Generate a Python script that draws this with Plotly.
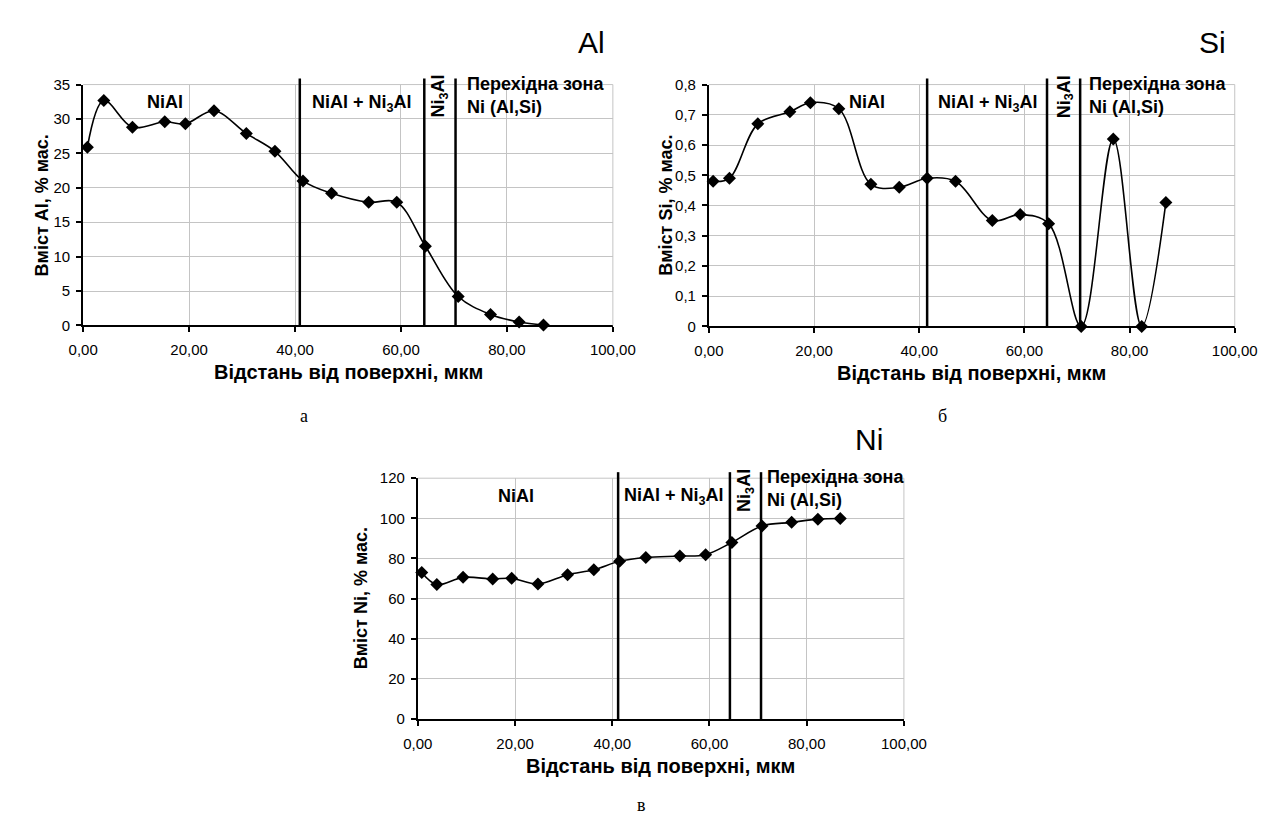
import plotly.graph_objects as go

# ---------------- data ----------------
distance = [0.8, 3.9, 9.3, 15.4, 19.3, 24.7, 30.8, 36.2, 41.5, 46.9,
            53.9, 59.2, 64.6, 70.8, 76.9, 82.3, 86.9]
al_content = [25.9, 32.7, 28.8, 29.6, 29.3, 31.2, 27.9, 25.3, 21.0, 19.2,
              17.9, 17.9, 11.5, 4.2, 1.6, 0.5, 0.05]
si_content = [0.48, 0.49, 0.67, 0.71, 0.74, 0.72, 0.47, 0.46, 0.49, 0.48,
              0.35, 0.37, 0.34, 0.0, 0.62, 0.0, 0.41]
ni_content = [73.0, 67.0, 70.6, 69.8, 70.1, 67.3, 71.9, 74.4, 78.6, 80.5,
              81.2, 81.9, 88.0, 96.2, 98.0, 99.6, 99.9]

# zone boundaries (per chart)
al_bounds = [40.9, 64.4, 70.3]
si_bounds = [41.5, 64.3, 70.6]
ni_bounds = [41.2, 64.2, 70.6]

x_tickvals = [0, 20, 40, 60, 80, 100]
x_ticktext = ["0,00", "20,00", "40,00", "60,00", "80,00", "100,00"]
al_tickvals = [0, 5, 10, 15, 20, 25, 30, 35]
al_ticktext = ["0", "5", "10", "15", "20", "25", "30", "35"]
si_tickvals = [0, 0.1, 0.2, 0.3, 0.4, 0.5, 0.6, 0.7, 0.8]
si_ticktext = ["0", "0,1", "0,2", "0,3", "0,4", "0,5", "0,6", "0,7", "0,8"]
ni_tickvals = [0, 20, 40, 60, 80, 100, 120]
ni_ticktext = ["0", "20", "40", "60", "80", "100", "120"]

x_title = "Відстань від поверхні, мкм"
y_titles = ["Вміст Al, % мас.", "Вміст Si, % мас.", "Вміст Ni, % мас."]
element_titles = ["Al", "Si", "Ni"]
panel_letters = ["а", "б", "в"]
zone_labels = ["NiAl", "NiAl + Ni<sub>3</sub>Al", "Ni<sub>3</sub>Al",
               "Перехідна зона<br>Ni (Al,Si)"]

W, H = 1274, 816
SANS = "Liberation Sans, Arial, sans-serif"
SERIF = "Liberation Serif, Times New Roman, serif"
GRID = "#c4c4c4"


def px(x):
    return x / W


def py(y):
    return 1 - y / H


# plot areas in pixels: (left, right, top, bottom)
areas = [(62, 608, 69, 315), (707, 1249, 69, 316), (407, 908, 471, 717)]

fig = go.Figure()

series = [al_content, si_content, ni_content]
for i, vals in enumerate(series):
    sfx = "" if i == 0 else str(i + 1)
    fig.add_trace(go.Scatter(
        x=distance, y=vals, xaxis="x" + sfx, yaxis="y" + sfx,
        mode="lines+markers",
        line=dict(color="black", width=1.6, shape="spline", smoothing=1.0),
        marker=dict(symbol="diamond", size=10, color="black"),
        cliponaxis=False, showlegend=False, hoverinfo="x+y"))

y_ticks = [(al_tickvals, al_ticktext, [0, 35]),
           (si_tickvals, si_ticktext, [0, 0.8]),
           (ni_tickvals, ni_ticktext, [0, 120])]

layout = dict(width=W, height=H, margin=dict(l=0, r=0, t=0, b=0),
              paper_bgcolor="white", plot_bgcolor="white",
              font=dict(family=SANS, color="black"), showlegend=False)

for i, (l, r, t, b) in enumerate(areas):
    sfx = "" if i == 0 else str(i + 1)
    tv, tt, rng = y_ticks[i]
    layout["xaxis" + sfx] = dict(
        domain=[px(l), px(r)], anchor="y" + sfx, range=[0, 100],
        tickvals=x_tickvals, ticktext=x_ticktext,
        showgrid=True, gridcolor=GRID, gridwidth=1,
        showline=True, linecolor="black", linewidth=2,
        ticks="outside", ticklen=5, tickwidth=1.5, tickcolor="black",
        ticklabelstandoff=5,
        tickfont=dict(size=15, family=SANS), zeroline=False, fixedrange=True)
    layout["yaxis" + sfx] = dict(
        domain=[py(b), py(t)], anchor="x" + sfx, range=rng,
        tickvals=tv, ticktext=tt,
        showgrid=True, gridcolor=GRID, gridwidth=1,
        showline=True, linecolor="black", linewidth=2,
        ticks="outside", ticklen=5, tickwidth=1.5, tickcolor="black",
        ticklabelstandoff=3,
        tickfont=dict(size=15, family=SANS), zeroline=False, fixedrange=True)

fig.update_layout(**layout)

shapes = []
annotations = []
bounds = [al_bounds, si_bounds, ni_bounds]
# label positions in data x coordinates per chart
zone_x = [
    (15.4, 42.8, 67.2, 72.0),
    (30.1, 43.2, 67.7, 71.9),
    (20.1, 41.9, 67.5, 71.5),
]
for i, (l, r, t, b) in enumerate(areas):
    sfx = "" if i == 0 else str(i + 1)
    xr = "x" + sfx
    yd = "y" + sfx + " domain"
    # top/right frame in grid colour
    shapes.append(dict(type="line", xref=xr + " domain", yref=yd, x0=0, x1=1,
                       y0=1, y1=1, line=dict(color=GRID, width=1)))
    shapes.append(dict(type="line", xref=xr + " domain", yref=yd, x0=1, x1=1,
                       y0=0, y1=1, line=dict(color=GRID, width=1)))
    for xb in bounds[i]:
        shapes.append(dict(type="line", xref=xr, yref=yd, x0=xb, x1=xb,
                           y0=0, y1=1.025, line=dict(color="black", width=2.5)))
    zx = zone_x[i]
    top_y = t
    annotations.append(dict(xref=xr, yref="paper", x=zx[0], y=py(top_y + 18),
                            text="<b>" + zone_labels[0] + "</b>", showarrow=False,
                            xanchor="center", yanchor="middle",
                            font=dict(size=18, family=SANS)))
    annotations.append(dict(xref=xr, yref="paper", x=zx[1], y=py(top_y + 19),
                            text="<b>" + zone_labels[1] + "</b>", showarrow=False,
                            xanchor="left", yanchor="middle",
                            font=dict(size=18, family=SANS)))
    annotations.append(dict(xref=xr, yref="paper", x=zx[2], y=py(top_y + 12),
                            text="<b>" + zone_labels[2] + "</b>", showarrow=False,
                            textangle=-90, xanchor="center", yanchor="middle",
                            font=dict(size=18, family=SANS)))
    annotations.append(dict(xref=xr, yref="paper", x=zx[3], y=py(top_y + 11),
                            text="<b>" + zone_labels[3] + "</b>", showarrow=False,
                            xanchor="left", yanchor="middle", align="left",
                            font=dict(size=18, family=SANS)))
    # x axis title
    annotations.append(dict(xref="paper", yref="paper", x=px((l + r) / 2),
                            y=py(b + 48), text="<b>" + x_title + "</b>",
                            showarrow=False, xanchor="center", yanchor="middle",
                            font=dict(size=20, family=SANS)))

# y titles (pixel x centre)
ytitle_x = [20, 663, 348]
for i, (l, r, t, b) in enumerate(areas):
    annotations.append(dict(xref="paper", yref="paper", x=px(ytitle_x[i]),
                            y=py((t + b) / 2), text="<b>" + y_titles[i] + "</b>",
                            textangle=-90, showarrow=False,
                            xanchor="center", yanchor="middle",
                            font=dict(size=18, family=SANS)))

# element titles (right edge, centre y)
el_pos = [(602, 26), (1242, 26), (888, 431)]
for i, (ex, ey) in enumerate(el_pos):
    annotations.append(dict(xref="paper", yref="paper", x=px(ex), y=py(ey),
                            text=element_titles[i], showarrow=False,
                            xanchor="right", yanchor="middle",
                            font=dict(size=30, family=SANS)))

# panel letters
letter_pos = [(290, 407), (948, 407), (638, 805)]
for i, (lx, ly) in enumerate(letter_pos):
    annotations.append(dict(xref="paper", yref="paper", x=px(lx), y=py(ly),
                            text=panel_letters[i], showarrow=False,
                            xanchor="center", yanchor="middle",
                            font=dict(size=18, family=SERIF)))

fig.update_layout(shapes=shapes, annotations=annotations)
fig.write_html("out.html")
